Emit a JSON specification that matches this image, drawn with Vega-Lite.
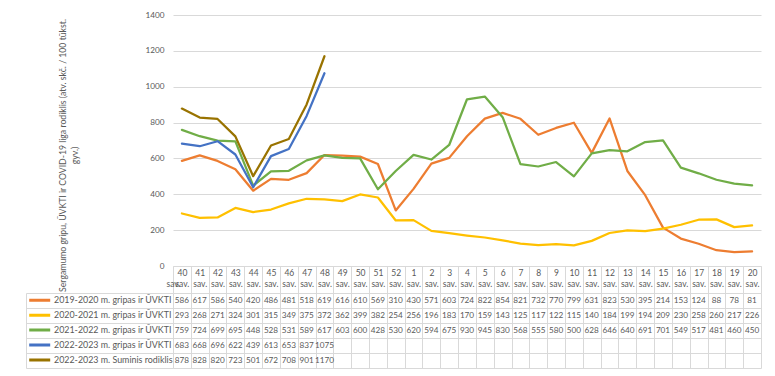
{
  "$schema": "https://vega.github.io/schema/vega-lite/v6.json",
  "background": "white",
  "padding": {"left": 25, "top": 10, "right": 5, "bottom": 5},
  "config": {
    "font": "Lato",
    "axis": {"labelFont": "Lato", "titleFont": "Lato", "labelColor": "#595959", "titleColor": "#595959"},
    "legend": {"labelFont": "Lato"},
    "text": {"font": "Lato"},
    "view": {"stroke": null}
  },
  "datasets": {
    "d": [
      {"s": "2019-2020 m. gripas ir ŪVKTI", "w": "40", "v": 586},
      {"s": "2019-2020 m. gripas ir ŪVKTI", "w": "41", "v": 617},
      {"s": "2019-2020 m. gripas ir ŪVKTI", "w": "42", "v": 586},
      {"s": "2019-2020 m. gripas ir ŪVKTI", "w": "43", "v": 540},
      {"s": "2019-2020 m. gripas ir ŪVKTI", "w": "44", "v": 420},
      {"s": "2019-2020 m. gripas ir ŪVKTI", "w": "45", "v": 486},
      {"s": "2019-2020 m. gripas ir ŪVKTI", "w": "46", "v": 481},
      {"s": "2019-2020 m. gripas ir ŪVKTI", "w": "47", "v": 518},
      {"s": "2019-2020 m. gripas ir ŪVKTI", "w": "48", "v": 619},
      {"s": "2019-2020 m. gripas ir ŪVKTI", "w": "49", "v": 616},
      {"s": "2019-2020 m. gripas ir ŪVKTI", "w": "50", "v": 610},
      {"s": "2019-2020 m. gripas ir ŪVKTI", "w": "51", "v": 569},
      {"s": "2019-2020 m. gripas ir ŪVKTI", "w": "52", "v": 310},
      {"s": "2019-2020 m. gripas ir ŪVKTI", "w": "1", "v": 430},
      {"s": "2019-2020 m. gripas ir ŪVKTI", "w": "2", "v": 571},
      {"s": "2019-2020 m. gripas ir ŪVKTI", "w": "3", "v": 603},
      {"s": "2019-2020 m. gripas ir ŪVKTI", "w": "4", "v": 724},
      {"s": "2019-2020 m. gripas ir ŪVKTI", "w": "5", "v": 822},
      {"s": "2019-2020 m. gripas ir ŪVKTI", "w": "6", "v": 854},
      {"s": "2019-2020 m. gripas ir ŪVKTI", "w": "7", "v": 821},
      {"s": "2019-2020 m. gripas ir ŪVKTI", "w": "8", "v": 732},
      {"s": "2019-2020 m. gripas ir ŪVKTI", "w": "9", "v": 770},
      {"s": "2019-2020 m. gripas ir ŪVKTI", "w": "10", "v": 799},
      {"s": "2019-2020 m. gripas ir ŪVKTI", "w": "11", "v": 631},
      {"s": "2019-2020 m. gripas ir ŪVKTI", "w": "12", "v": 823},
      {"s": "2019-2020 m. gripas ir ŪVKTI", "w": "13", "v": 530},
      {"s": "2019-2020 m. gripas ir ŪVKTI", "w": "14", "v": 395},
      {"s": "2019-2020 m. gripas ir ŪVKTI", "w": "15", "v": 214},
      {"s": "2019-2020 m. gripas ir ŪVKTI", "w": "16", "v": 153},
      {"s": "2019-2020 m. gripas ir ŪVKTI", "w": "17", "v": 124},
      {"s": "2019-2020 m. gripas ir ŪVKTI", "w": "18", "v": 88},
      {"s": "2019-2020 m. gripas ir ŪVKTI", "w": "19", "v": 78},
      {"s": "2019-2020 m. gripas ir ŪVKTI", "w": "20", "v": 81},
      {"s": "2020-2021 m. gripas ir ŪVKTI", "w": "40", "v": 293},
      {"s": "2020-2021 m. gripas ir ŪVKTI", "w": "41", "v": 268},
      {"s": "2020-2021 m. gripas ir ŪVKTI", "w": "42", "v": 271},
      {"s": "2020-2021 m. gripas ir ŪVKTI", "w": "43", "v": 324},
      {"s": "2020-2021 m. gripas ir ŪVKTI", "w": "44", "v": 301},
      {"s": "2020-2021 m. gripas ir ŪVKTI", "w": "45", "v": 315},
      {"s": "2020-2021 m. gripas ir ŪVKTI", "w": "46", "v": 349},
      {"s": "2020-2021 m. gripas ir ŪVKTI", "w": "47", "v": 375},
      {"s": "2020-2021 m. gripas ir ŪVKTI", "w": "48", "v": 372},
      {"s": "2020-2021 m. gripas ir ŪVKTI", "w": "49", "v": 362},
      {"s": "2020-2021 m. gripas ir ŪVKTI", "w": "50", "v": 399},
      {"s": "2020-2021 m. gripas ir ŪVKTI", "w": "51", "v": 382},
      {"s": "2020-2021 m. gripas ir ŪVKTI", "w": "52", "v": 254},
      {"s": "2020-2021 m. gripas ir ŪVKTI", "w": "1", "v": 256},
      {"s": "2020-2021 m. gripas ir ŪVKTI", "w": "2", "v": 196},
      {"s": "2020-2021 m. gripas ir ŪVKTI", "w": "3", "v": 183},
      {"s": "2020-2021 m. gripas ir ŪVKTI", "w": "4", "v": 170},
      {"s": "2020-2021 m. gripas ir ŪVKTI", "w": "5", "v": 159},
      {"s": "2020-2021 m. gripas ir ŪVKTI", "w": "6", "v": 143},
      {"s": "2020-2021 m. gripas ir ŪVKTI", "w": "7", "v": 125},
      {"s": "2020-2021 m. gripas ir ŪVKTI", "w": "8", "v": 117},
      {"s": "2020-2021 m. gripas ir ŪVKTI", "w": "9", "v": 122},
      {"s": "2020-2021 m. gripas ir ŪVKTI", "w": "10", "v": 115},
      {"s": "2020-2021 m. gripas ir ŪVKTI", "w": "11", "v": 140},
      {"s": "2020-2021 m. gripas ir ŪVKTI", "w": "12", "v": 184},
      {"s": "2020-2021 m. gripas ir ŪVKTI", "w": "13", "v": 199},
      {"s": "2020-2021 m. gripas ir ŪVKTI", "w": "14", "v": 194},
      {"s": "2020-2021 m. gripas ir ŪVKTI", "w": "15", "v": 209},
      {"s": "2020-2021 m. gripas ir ŪVKTI", "w": "16", "v": 230},
      {"s": "2020-2021 m. gripas ir ŪVKTI", "w": "17", "v": 258},
      {"s": "2020-2021 m. gripas ir ŪVKTI", "w": "18", "v": 260},
      {"s": "2020-2021 m. gripas ir ŪVKTI", "w": "19", "v": 217},
      {"s": "2020-2021 m. gripas ir ŪVKTI", "w": "20", "v": 226},
      {"s": "2021-2022 m. gripas ir ŪVKTI", "w": "40", "v": 759},
      {"s": "2021-2022 m. gripas ir ŪVKTI", "w": "41", "v": 724},
      {"s": "2021-2022 m. gripas ir ŪVKTI", "w": "42", "v": 699},
      {"s": "2021-2022 m. gripas ir ŪVKTI", "w": "43", "v": 695},
      {"s": "2021-2022 m. gripas ir ŪVKTI", "w": "44", "v": 448},
      {"s": "2021-2022 m. gripas ir ŪVKTI", "w": "45", "v": 528},
      {"s": "2021-2022 m. gripas ir ŪVKTI", "w": "46", "v": 531},
      {"s": "2021-2022 m. gripas ir ŪVKTI", "w": "47", "v": 589},
      {"s": "2021-2022 m. gripas ir ŪVKTI", "w": "48", "v": 617},
      {"s": "2021-2022 m. gripas ir ŪVKTI", "w": "49", "v": 603},
      {"s": "2021-2022 m. gripas ir ŪVKTI", "w": "50", "v": 600},
      {"s": "2021-2022 m. gripas ir ŪVKTI", "w": "51", "v": 428},
      {"s": "2021-2022 m. gripas ir ŪVKTI", "w": "52", "v": 530},
      {"s": "2021-2022 m. gripas ir ŪVKTI", "w": "1", "v": 620},
      {"s": "2021-2022 m. gripas ir ŪVKTI", "w": "2", "v": 594},
      {"s": "2021-2022 m. gripas ir ŪVKTI", "w": "3", "v": 675},
      {"s": "2021-2022 m. gripas ir ŪVKTI", "w": "4", "v": 930},
      {"s": "2021-2022 m. gripas ir ŪVKTI", "w": "5", "v": 945},
      {"s": "2021-2022 m. gripas ir ŪVKTI", "w": "6", "v": 830},
      {"s": "2021-2022 m. gripas ir ŪVKTI", "w": "7", "v": 568},
      {"s": "2021-2022 m. gripas ir ŪVKTI", "w": "8", "v": 555},
      {"s": "2021-2022 m. gripas ir ŪVKTI", "w": "9", "v": 580},
      {"s": "2021-2022 m. gripas ir ŪVKTI", "w": "10", "v": 500},
      {"s": "2021-2022 m. gripas ir ŪVKTI", "w": "11", "v": 628},
      {"s": "2021-2022 m. gripas ir ŪVKTI", "w": "12", "v": 646},
      {"s": "2021-2022 m. gripas ir ŪVKTI", "w": "13", "v": 640},
      {"s": "2021-2022 m. gripas ir ŪVKTI", "w": "14", "v": 691},
      {"s": "2021-2022 m. gripas ir ŪVKTI", "w": "15", "v": 701},
      {"s": "2021-2022 m. gripas ir ŪVKTI", "w": "16", "v": 549},
      {"s": "2021-2022 m. gripas ir ŪVKTI", "w": "17", "v": 517},
      {"s": "2021-2022 m. gripas ir ŪVKTI", "w": "18", "v": 481},
      {"s": "2021-2022 m. gripas ir ŪVKTI", "w": "19", "v": 460},
      {"s": "2021-2022 m. gripas ir ŪVKTI", "w": "20", "v": 450},
      {"s": "2022-2023 m. gripas ir ŪVKTI", "w": "40", "v": 683},
      {"s": "2022-2023 m. gripas ir ŪVKTI", "w": "41", "v": 668},
      {"s": "2022-2023 m. gripas ir ŪVKTI", "w": "42", "v": 696},
      {"s": "2022-2023 m. gripas ir ŪVKTI", "w": "43", "v": 622},
      {"s": "2022-2023 m. gripas ir ŪVKTI", "w": "44", "v": 439},
      {"s": "2022-2023 m. gripas ir ŪVKTI", "w": "45", "v": 613},
      {"s": "2022-2023 m. gripas ir ŪVKTI", "w": "46", "v": 653},
      {"s": "2022-2023 m. gripas ir ŪVKTI", "w": "47", "v": 837},
      {"s": "2022-2023 m. gripas ir ŪVKTI", "w": "48", "v": 1075},
      {"s": "2022-2023 m. Suminis rodiklis", "w": "40", "v": 878},
      {"s": "2022-2023 m. Suminis rodiklis", "w": "41", "v": 828},
      {"s": "2022-2023 m. Suminis rodiklis", "w": "42", "v": 820},
      {"s": "2022-2023 m. Suminis rodiklis", "w": "43", "v": 723},
      {"s": "2022-2023 m. Suminis rodiklis", "w": "44", "v": 501},
      {"s": "2022-2023 m. Suminis rodiklis", "w": "45", "v": 672},
      {"s": "2022-2023 m. Suminis rodiklis", "w": "46", "v": 708},
      {"s": "2022-2023 m. Suminis rodiklis", "w": "47", "v": 901},
      {"s": "2022-2023 m. Suminis rodiklis", "w": "48", "v": 1170}
    ]
  },
  "resolve": {"scale": {"color": "independent", "x": "shared"}, "legend": {"color": "independent"}},
  "bounds": "flush",
  "spacing": 27,
  "vconcat": [
    {
      "width": 588,
      "height": 251,
      "data": {"name": "d"},
      "mark": {"type": "line", "strokeWidth": 2.25, "strokeJoin": "round", "strokeCap": "round"},
      "encoding": {
        "x": {
          "field": "w", "type": "ordinal",
          "scale": {"type": "band", "domain": ["40","41","42","43","44","45","46","47","48","49","50","51","52","1","2","3","4","5","6","7","8","9","10","11","12","13","14","15","16","17","18","19","20"], "paddingInner": 0, "paddingOuter": 0},
          "axis": {"title": null, "orient": "bottom", "domainColor": "#d9d9d9", "tickBand": "extent", "tickSize": 27, "tickColor": "#d9d9d9", "labelAngle": 0, "labelExpr": "[datum.label, 'sav.']", "labelFontSize": 8.5, "labelLineHeight": 10.5, "labelPadding": -24.5, "labelBaseline": "top"}
        },
        "y": {
          "field": "v", "type": "quantitative",
          "scale": {"domain": [0, 1400]},
          "axis": {"values": [0,200,400,600,800,1000,1200,1400], "format": "d", "domain": false, "ticks": false, "labelPadding": 9, "labelFontSize": 8.2, "gridColor": "#d9d9d9", "title": ["Sergamumo gripu, ŪVKTI ir COVID-19 liga rodiklis (atv. skč. / 100 tūkst.", "gyv.)"], "titleFontSize": 8.7, "titleFontWeight": "normal", "titleX": -108, "titleY": 140, "titleBaseline": "alphabetic", "titleLineHeight": 12}
        },
        "color": {
          "field": "s", "type": "nominal",
          "scale": {"domain": ["2019-2020 m. gripas ir ŪVKTI", "2020-2021 m. gripas ir ŪVKTI", "2021-2022 m. gripas ir ŪVKTI", "2022-2023 m. gripas ir ŪVKTI", "2022-2023 m. Suminis rodiklis"], "range": ["#ED7D31", "#FFC000", "#70AD47", "#4472C4", "#997300"]},
          "legend": null
        }
      }
    },
    {
      "width": 588,
      "height": 75,
      "data": {"name": "d"},
      "layer": [
        {
          "mark": {"type": "text", "fontSize": 8.2, "color": "#595959"},
          "encoding": {
            "x": {
              "field": "w", "type": "ordinal",
              "scale": {"type": "band", "domain": ["40","41","42","43","44","45","46","47","48","49","50","51","52","1","2","3","4","5","6","7","8","9","10","11","12","13","14","15","16","17","18","19","20"], "paddingInner": 0, "paddingOuter": 0},
              "axis": {"title": null, "grid": true, "tickBand": "extent", "gridColor": "#d9d9d9", "labels": false, "ticks": false, "domain": false}
            },
            "y": {
              "field": "s", "type": "nominal",
              "scale": {"domain": ["2019-2020 m. gripas ir ŪVKTI", "2020-2021 m. gripas ir ŪVKTI", "2021-2022 m. gripas ir ŪVKTI", "2022-2023 m. gripas ir ŪVKTI", "2022-2023 m. Suminis rodiklis"], "paddingInner": 0, "paddingOuter": 0},
              "axis": {"title": null, "offset": 147, "domainColor": "#d9d9d9", "tickBand": "extent", "tickSize": -147, "tickColor": "#d9d9d9", "grid": true, "gridColor": "#d9d9d9", "labels": false}
            },
            "text": {"field": "v", "type": "quantitative"}
          }
        },
        {
          "mark": {"type": "line", "strokeWidth": 3},
          "transform": [{"filter": "false"}],
          "encoding": {
            "color": {
              "field": "s", "type": "nominal",
              "scale": {"domain": ["2019-2020 m. gripas ir ŪVKTI", "2020-2021 m. gripas ir ŪVKTI", "2021-2022 m. gripas ir ŪVKTI", "2022-2023 m. gripas ir ŪVKTI", "2022-2023 m. Suminis rodiklis"], "range": ["#ED7D31", "#FFC000", "#70AD47", "#4472C4", "#997300"]},
              "legend": {"title": null, "orient": "none", "legendX": -145.3, "legendY": 0.8, "padding": 0, "symbolType": "stroke", "symbolSize": 441, "symbolStrokeWidth": 3, "clipHeight": 13, "rowPadding": 1.9, "labelOffset": 2.3, "labelFontSize": 8.9, "labelColor": "#595959", "labelLimit": 200}
            }
          }
        }
      ]
    }
  ]
}
